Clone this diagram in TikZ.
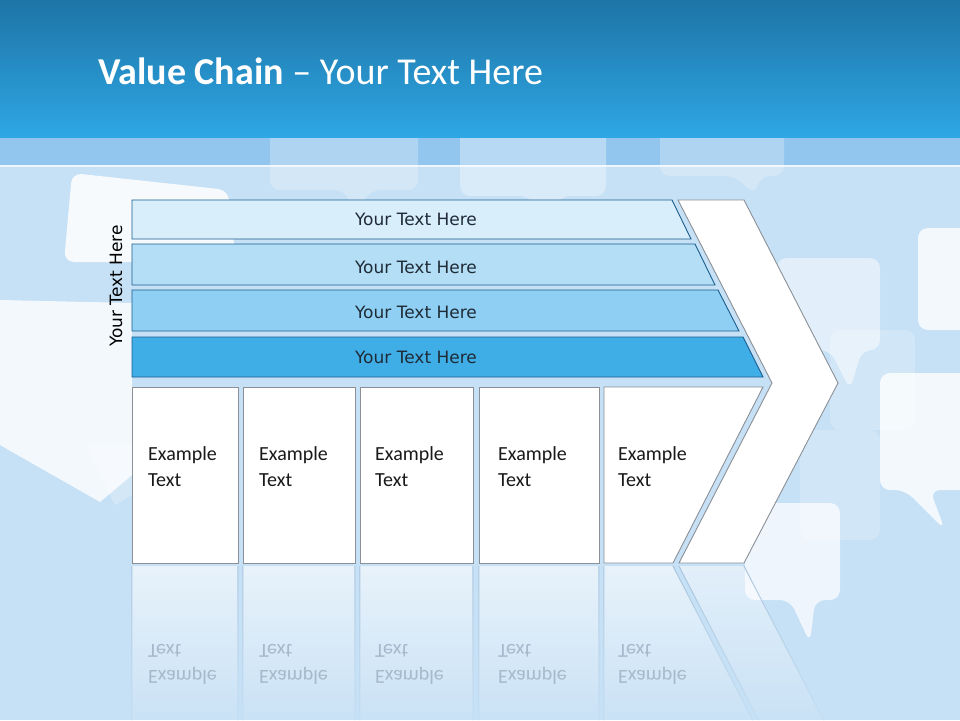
\documentclass[tikz,border=0pt]{standalone}
\usepackage{fontspec}
\setmainfont{Carlito}
\newfontfamily\dv{DejaVu Sans}
\usetikzlibrary{fadings}
\definecolor{bg}{HTML}{C6E0F5}
\definecolor{hdtop}{HTML}{1E74A6}
\definecolor{hdbot}{HTML}{2EA7E4}
\definecolor{band}{HTML}{93C6EE}
\definecolor{barA}{HTML}{D9EEFB}
\definecolor{barB}{HTML}{B3DEF6}
\definecolor{barC}{HTML}{8FCFF3}
\definecolor{barD}{HTML}{40AEE6}
\definecolor{barline}{HTML}{1B5E8E}
\definecolor{bartext}{HTML}{1F2B36}
\definecolor{cellline}{HTML}{8A9096}
\definecolor{refline}{HTML}{A9C5DE}
\definecolor{reftext}{HTML}{A6B9CB}
\tikzset{
  bub/.style={fill=white, rounded corners=10pt},
  barshape/.style={draw=barline, line width=0.9pt},
  bartxt/.style={font=\dv\fontsize{17}{20}\selectfont, text=bartext, anchor=base, inner sep=0pt},
  cell/.style={draw=cellline, fill=white, line width=0.9pt},
  celltxt/.style={font=\fontsize{20}{26}\selectfont, align=left, anchor=base west, inner sep=0pt, text=black!90},
  reftxt/.style={celltxt, text=reftext, transform shape},
}
\begin{document}
\begin{tikzpicture}[x=1pt,y=-1pt]
\useasboundingbox (0,0) rectangle (960,720);
% background
\fill[bg] (0,0) rectangle (960,720);
\fill[band] (0,137) rectangle (960,165);
\fill[white!70!bg] (0,165) rectangle (960,167);
% bubbles
\fill[bub, opacity=.25] (270,120) -- (418,120) -- (418,190) -- (370,190) -- (355,215) -- (345,190) -- (270,190) -- cycle;
\fill[bub, opacity=.35] (460,120) -- (606,120) -- (606,196) -- (560,196) -- (545,225) -- (530,196) -- (460,196) -- cycle;
\fill[bub, opacity=.25] (660,120) -- (784,120) -- (784,176) -- (760,176) -- (755,195) -- (735,176) -- (660,176) -- cycle;
\fill[bub, opacity=.85] (72,173) -- (228,190) -- (236,262) -- (64,262) -- cycle;
\fill[white, opacity=.8] (0,300) -- (132,303) -- (132,475) -- (100,502) -- (0,445) -- cycle;
\fill[white, opacity=.25] (85,445) -- (132,445) -- (132,495) -- (115,505) -- cycle;
\fill[bub, opacity=.5] (777,258) -- (880,258) -- (880,350) -- (862,350) -- (850,390) -- (830,350) -- (777,350) -- cycle;
\fill[bub, opacity=.2] (830,330) rectangle (915,430);
\fill[bub, opacity=.8] (918,228) rectangle (975,330);
\fill[bub, opacity=.8] (880,373) -- (975,373) -- (975,490) -- (930,490) -- (945,530) -- (905,490) -- (880,490) -- cycle;
\fill[bub, opacity=.7] (745,503) -- (840,503) -- (840,600) -- (815,600) -- (810,643) -- (790,600) -- (745,600) -- cycle;
\fill[bub, opacity=.2] (800,430) rectangle (880,540);
% header
\shade[top color=hdtop, bottom color=hdbot] (0,0) rectangle (960,137);
\node[anchor=base west, inner sep=0pt, text=white, font=\fontsize{38}{42}\selectfont] (title) at (98,84) {\textbf{Value Chain} – Your Text Here};
% vertical label
\node[font=\dv\fontsize{17}{20}\selectfont, anchor=base, rotate=90, inner sep=0pt] (side) at (122,286) {Your Text Here};
% bars
\draw[barshape, fill=barA] (132,200) -- (672,200) -- (691,239) -- (132,239) -- cycle;
\draw[barshape, fill=barB] (132,244) -- (695,244) -- (715,285) -- (132,285) -- cycle;
\draw[barshape, fill=barC] (132,290) -- (718,290) -- (739,331) -- (132,331) -- cycle;
\draw[barshape, fill=barD] (132,337) -- (743,337) -- (763,377) -- (132,377) -- cycle;
\node[bartxt] (b1) at (416,225) {Your Text Here};
\node[bartxt] (b2) at (416,273) {Your Text Here};
\node[bartxt] (b3) at (416,318) {Your Text Here};
\node[bartxt] (b4) at (416,363) {Your Text Here};
% chevron
\draw[cell] (678,200) -- (744,200) -- (838,383) -- (744,563) -- (679,563) -- (772,383) -- cycle;
% boxes
\draw[cell] (132,387) rectangle (238,563);
\draw[cell] (243,387) rectangle (355,563);
\draw[cell] (360,387) rectangle (473,563);
\draw[cell] (479,387) rectangle (599,563);
\draw[cell] (604,387) -- (763,387) -- (673,563) -- (604,563) -- cycle;
\node[celltxt] (t1) at (148,486) {Example\\Text};
\node[celltxt] (t2) at (259,486) {Example\\Text};
\node[celltxt] (t3) at (375,486) {Example\\Text};
\node[celltxt] (t4) at (498,486) {Example\\Text};
\node[celltxt] (t5) at (618,486) {Example\\Text};
% reflection
\fill[white, fill opacity=.6, path fading=south] (132,566) rectangle (238,740);
\fill[white, fill opacity=.6, path fading=south] (243,566) rectangle (355,740);
\fill[white, fill opacity=.6, path fading=south] (360,566) rectangle (473,740);
\fill[white, fill opacity=.6, path fading=south] (479,566) rectangle (599,740);
\fill[white, fill opacity=.6, path fading=south] (604,566) -- (673,566) -- (763,740) -- (604,740) -- cycle;
\fill[white, fill opacity=.5, path fading=south] (679,566) -- (744,566) -- (834,740) -- (769,740) -- cycle;
\draw[refline, line width=1pt, path fading=south]
  (132,566) -- (132,740) (238,566) -- (238,740)
  (243,566) -- (243,740) (355,566) -- (355,740)
  (360,566) -- (360,740) (473,566) -- (473,740)
  (479,566) -- (479,740) (599,566) -- (599,740)
  (604,566) -- (604,740) (673,566) -- (763,740)
  (679,566) -- (769,740) (744,566) -- (834,740);
\begin{scope}[shift={(0,1130)}, yscale=-1]
\node[reftxt] (r1) at (148,486) {Example\\Text};
\node[reftxt] (r2) at (259,486) {Example\\Text};
\node[reftxt] (r3) at (375,486) {Example\\Text};
\node[reftxt] (r4) at (498,486) {Example\\Text};
\node[reftxt] (r5) at (618,486) {Example\\Text};
\end{scope}
\end{tikzpicture}
\end{document}
